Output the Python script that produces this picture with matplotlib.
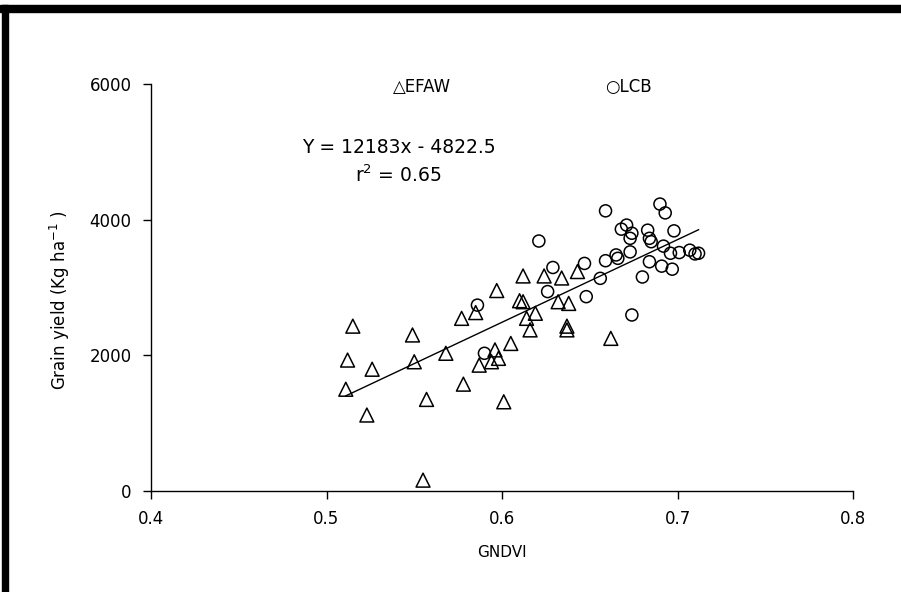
import matplotlib
matplotlib.use("Agg")
import matplotlib.pyplot as plt
from matplotlib.patches import Rectangle
import numpy as np

plt.rcParams['font.family'] = ['DejaVu Sans']

# EFAW (triangles)
efaw_x = [0.515, 0.512, 0.511, 0.526, 0.523, 0.549, 0.550, 0.557, 0.555, 0.568,
          0.578, 0.577, 0.587, 0.585, 0.597, 0.596, 0.598, 0.594, 0.601, 0.605,
          0.610, 0.612, 0.612, 0.614, 0.616, 0.619, 0.624, 0.634, 0.632, 0.638,
          0.637, 0.637, 0.643, 0.662]
efaw_y = [2430, 1930, 1500, 1795, 1120, 2300, 1905, 1350, 160, 2030,
          1575, 2545, 1855, 2630, 2955, 2080, 1955, 1905, 1315, 2175,
          2805, 2790, 3170, 2545, 2375, 2620, 3170, 3140, 2790, 2765,
          2375, 2430, 3235, 2250]

# LCB (circles)
lcb_x = [0.586, 0.590, 0.621, 0.629, 0.626, 0.647, 0.648, 0.656, 0.659, 0.659,
         0.665, 0.666, 0.668, 0.671, 0.674, 0.673, 0.673, 0.674, 0.680, 0.683,
         0.684, 0.685, 0.684, 0.690, 0.693, 0.692, 0.691, 0.696, 0.697, 0.698,
         0.701, 0.707, 0.710, 0.712]
lcb_y = [2740, 2030, 3685, 3295, 2940, 3355, 2865, 3135, 4130, 3395,
         3480, 3430, 3860, 3920, 3800, 3725, 3525, 2595, 3155, 3845,
         3725, 3675, 3380, 4230, 4100, 3610, 3315, 3505, 3270, 3835,
         3515, 3550, 3495, 3505]

# regression printed on chart
slope = 12183
intercept = -4822.5

fig = plt.figure(figsize=(9.01, 5.92), dpi=100)
ax = fig.add_axes([151 / 901, 1 - 491 / 592, 702 / 901, 407 / 592])

ax.scatter(efaw_x, efaw_y, marker='^', s=100, facecolors='none',
           edgecolors='black', linewidths=1.1, zorder=3)
ax.scatter(lcb_x, lcb_y, marker='o', s=75, facecolors='none',
           edgecolors='black', linewidths=1.1, zorder=3)

all_x = np.array(efaw_x + lcb_x)
xs = np.array([all_x.min(), all_x.max()])
ax.plot(xs, slope * xs + intercept, color='black', lw=1.0, zorder=2)

ax.set_xlim(0.4, 0.8)
ax.set_ylim(0, 6000)
ax.set_xticks([0.4, 0.5, 0.6, 0.7, 0.8])
ax.set_xticklabels(['0.4', '0.5', '0.6', '0.7', '0.8'])
ax.set_yticks([0, 2000, 4000, 6000])

for s in ['top', 'right']:
    ax.spines[s].set_visible(False)
for s in ['left', 'bottom']:
    ax.spines[s].set_linewidth(1.0)
ax.tick_params(axis='both', direction='out', length=6, width=1.0,
               labelsize=12, pad=8)

ax.set_xlabel('GNDVI', fontsize=11, labelpad=12)
ax.set_ylabel('Grain yield (Kg ha$^{-1}$ )', fontsize=12)
ax.yaxis.set_label_coords(-0.113, 0.47)

ax.text(0.538, 5950, '\u25b3EFAW', fontsize=12, ha='left', va='center')
ax.text(0.659, 5950, '\u25cbLCB', fontsize=12, ha='left', va='center')
ax.text(0.541, 5070, 'Y = 12183x - 4822.5', fontsize=13.5, ha='center', va='center')
ax.text(0.541, 4660, '$\\mathregular{r^2}$ = 0.65', fontsize=13.5, ha='center', va='center')

# black frame at top and left
fig.patches.append(Rectangle((0, 1 - 12 / 592), 1, 7 / 592, transform=fig.transFigure,
                             color='black', zorder=10))
fig.patches.append(Rectangle((2 / 901, 0), 6 / 901, 1 - 5 / 592, transform=fig.transFigure,
                             color='black', zorder=10))

fig.savefig('out.png', dpi=100)
